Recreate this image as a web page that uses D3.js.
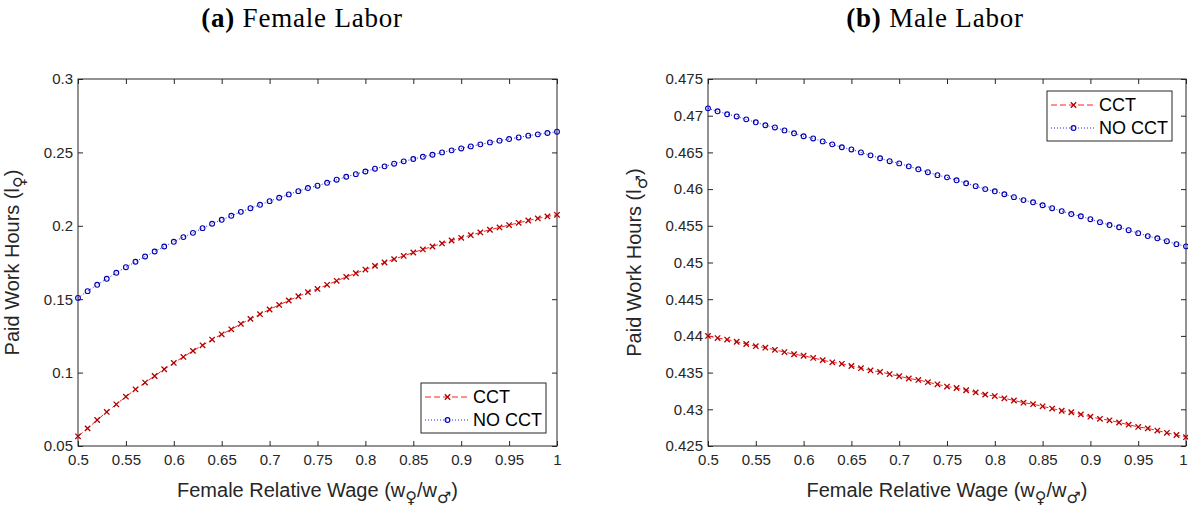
<!DOCTYPE html>
<meta charset="utf-8">
<head>
	<title>CCT vs NO CCT - paid work hours</title>
</head>

<style>

body{
	margin: 0;
	background: #fff;
}

svg{
	display: block;
	font-family: "Liberation Sans", Arial, sans-serif;
}

.axis path, .axis line {
	stroke: #262626;
}

.axis text {
	fill: #262626;
	font-size: 15px;
}

.title {
	font-family: "Liberation Serif", "DejaVu Serif", serif;
	font-size: 27px;
	letter-spacing: 0.8px;
	fill: #000;
}

.label {
	font-size: 20px;
	fill: #262626;
}

.sym {
	font-family: "DejaVu Sans", sans-serif;
}

</style>

<body>

<svg width="1188" height="508"></svg>

<script src="https://cdnjs.cloudflare.com/ajax/libs/d3/7.8.5/d3.min.js"></script>
<script>

// wage ratio grid, 0.5 .. 1 step 0.01
var wage = d3.range(51).map(function(i){ return +(0.5 + i * 0.01).toFixed(2); });

// (a) female labor
var femaleCCT = [
	0.0566, 0.0620, 0.0677, 0.0732, 0.0784, 0.0836, 0.0886, 0.0932, 0.0977, 0.1023,
	0.1066, 0.1107, 0.1148, 0.1186, 0.1225, 0.1261, 0.1295, 0.1332, 0.1366, 0.1398,
	0.1430, 0.1461, 0.1491, 0.1520, 0.1548, 0.1570, 0.1598, 0.1625, 0.1652, 0.1677,
	0.1702, 0.1727, 0.1750, 0.1773, 0.1795, 0.1818, 0.1839, 0.1859, 0.1880, 0.1900,
	0.1918, 0.1936, 0.1955, 0.1973, 0.1989, 0.2005, 0.2020, 0.2036, 0.2050, 0.2064,
	0.2075
];
var femaleNoCCT = [
	0.1509, 0.1555, 0.1598, 0.1639, 0.1680, 0.1718, 0.1755, 0.1791, 0.1825, 0.1859,
	0.1891, 0.1923, 0.1952, 0.1984, 0.2014, 0.2041, 0.2068, 0.2095, 0.2120, 0.2143,
	0.2168, 0.2191, 0.2214, 0.2236, 0.2257, 0.2273, 0.2293, 0.2314, 0.2334, 0.2352,
	0.2370, 0.2389, 0.2405, 0.2423, 0.2439, 0.2455, 0.2470, 0.2484, 0.2500, 0.2514,
	0.2527, 0.2541, 0.2555, 0.2568, 0.2580, 0.2591, 0.2602, 0.2614, 0.2623, 0.2632,
	0.2641
];

// (b) male labor
var maleCCT = [
	0.4400, 0.4397, 0.4395, 0.4392, 0.4389, 0.4386, 0.4384, 0.4381, 0.4378, 0.4375,
	0.4373, 0.4370, 0.4367, 0.4364, 0.4362, 0.4359, 0.4356, 0.4353, 0.4351, 0.4348,
	0.4345, 0.4342, 0.4340, 0.4337, 0.4334, 0.4331, 0.4329, 0.4326, 0.4323, 0.4320,
	0.4318, 0.4315, 0.4312, 0.4309, 0.4307, 0.4304, 0.4301, 0.4298, 0.4296, 0.4293,
	0.4290, 0.4287, 0.4285, 0.4282, 0.4279, 0.4276, 0.4274, 0.4271, 0.4268, 0.4265,
	0.4262
];
var maleNoCCT = [
	0.4710, 0.4706, 0.4702, 0.4699, 0.4695, 0.4691, 0.4687, 0.4684, 0.4680, 0.4676,
	0.4672, 0.4669, 0.4665, 0.4661, 0.4657, 0.4654, 0.4650, 0.4646, 0.4642, 0.4638,
	0.4635, 0.4631, 0.4627, 0.4623, 0.4619, 0.4616, 0.4612, 0.4608, 0.4604, 0.4600,
	0.4597, 0.4593, 0.4589, 0.4585, 0.4582, 0.4578, 0.4574, 0.4570, 0.4566, 0.4563,
	0.4559, 0.4555, 0.4551, 0.4548, 0.4544, 0.4540, 0.4536, 0.4533, 0.4529, 0.4525,
	0.4522
];

var xTicks = [0.5, 0.55, 0.6, 0.65, 0.7, 0.75, 0.8, 0.85, 0.9, 0.95, 1];
var yTicksA = [0.05, 0.1, 0.15, 0.2, 0.25, 0.3];
var yTicksB = [0.425, 0.43, 0.435, 0.44, 0.445, 0.45, 0.455, 0.46, 0.465, 0.47, 0.475];

var seriesNames = ['CCT', 'NO CCT'];

var svg = d3.select('svg');
var fmt = function(d){ return String(+d.toFixed(3)); };

function drawPanel(p){
	var w = p.x1 - p.x0, h = p.y1 - p.y0;
	var g = svg.append('g').attr('transform', 'translate(' + p.x0 + ',' + p.y0 + ')');

	var x = d3.scaleLinear().domain([0.5, 1]).range([0, w]);
	var y = d3.scaleLinear().domain(p.yDomain).range([h, 0]);

	// title
	var t = svg.append('text').attr('class', 'title')
		.attr('x', p.titleX).attr('y', 27).attr('text-anchor', 'middle');
	t.append('tspan').attr('font-weight', 'bold').text(p.tag);
	t.append('tspan').text(' ' + p.title);

	// axes, matlab box style with inward ticks
	var xa = g.append('g').attr('class', 'axis').attr('transform', 'translate(0,' + h + ')')
		.call(d3.axisBottom(x).tickValues(xTicks).tickFormat(fmt).tickSizeInner(-5).tickSizeOuter(0).tickPadding(8));
	if (p.clipLast) {
		// last label sits on the page edge
		xa.selectAll('.tick').filter(function(d){ return d === 1; }).select('text')
			.attr('text-anchor', 'end').attr('dx', 1);
	}
	g.append('g').attr('class', 'axis')
		.call(d3.axisTop(x).tickValues(xTicks).tickFormat('').tickSizeInner(-5).tickSizeOuter(0));
	g.append('g').attr('class', 'axis')
		.call(d3.axisLeft(y).tickValues(p.yTicks).tickFormat(fmt).tickSizeInner(-5).tickSizeOuter(0).tickPadding(5));
	g.append('g').attr('class', 'axis').attr('transform', 'translate(' + w + ',0)')
		.call(d3.axisRight(y).tickValues(p.yTicks).tickFormat('').tickSizeInner(-5).tickSizeOuter(0));
	g.selectAll('.axis path.domain').remove();
	g.append('rect').attr('width', w).attr('height', h)
		.attr('fill', 'none').attr('stroke', '#262626').attr('stroke-width', 1);

	var line = d3.line()
		.x(function(d, i){ return x(wage[i]); })
		.y(function(d){ return y(d); });

	// CCT: red dashed with x markers
	g.append('path').attr('d', line(p.cct))
		.attr('fill', 'none').attr('stroke', '#ff2020').attr('stroke-width', 1)
		.attr('stroke-dasharray', '6,3');
	g.selectAll('.xm').data(p.cct).enter().append('path')
		.attr('class', 'xm')
		.attr('transform', function(d, i){ return 'translate(' + x(wage[i]) + ',' + y(d) + ')'; })
		.attr('d', 'M-2.7,-2.7L2.7,2.7M-2.7,2.7L2.7,-2.7')
		.attr('stroke', '#b00000').attr('stroke-width', 1.3);

	// NO CCT: blue dotted with o markers
	g.append('path').attr('d', line(p.nocct))
		.attr('fill', 'none').attr('stroke', '#2020ff').attr('stroke-width', 1)
		.attr('stroke-dasharray', '1,2');
	g.selectAll('.om').data(p.nocct).enter().append('circle')
		.attr('cx', function(d, i){ return x(wage[i]); })
		.attr('cy', function(d){ return y(d); })
		.attr('r', 2.4)
		.attr('fill', 'none').attr('stroke', '#0000b0').attr('stroke-width', 1.1);

	// axis labels
	var xl = g.append('text').attr('class', 'label')
		.attr('x', w / 2).attr('y', h + 51).attr('text-anchor', 'middle');
	xl.append('tspan').text('Female Relative Wage (w');
	xl.append('tspan').attr('class', 'sym').attr('font-size', 16).attr('dy', 6).text('\u2640');
	xl.append('tspan').attr('dy', -6).text('/w');
	xl.append('tspan').attr('class', 'sym').attr('font-size', 16).attr('dy', 6).text('\u2642');
	xl.append('tspan').attr('dy', -6).text(')');

	var yl = g.append('text').attr('class', 'label')
		.attr('transform', 'translate(' + p.yLabelX + ',' + (h / 2) + ') rotate(-90)')
		.attr('text-anchor', 'middle');
	yl.append('tspan').text('Paid Work Hours (l');
	yl.append('tspan').attr('class', 'sym').attr('font-size', 16).attr('dy', 6).text(p.ySym);
	yl.append('tspan').attr('dy', -6).text(')');

	// legend
	var lg = svg.append('g').attr('transform', 'translate(' + p.legX + ',' + p.legY + ')');
	lg.append('rect').attr('width', 125).attr('height', 50)
		.attr('fill', '#fff').attr('stroke', '#262626').attr('stroke-width', 1);
	var rows = lg.selectAll('.row').data(seriesNames).enter().append('g')
		.attr('transform', function(d, i){ return 'translate(0,' + (14 + i * 23) + ')'; });
	rows.append('line').attr('x1', 4).attr('x2', 48)
		.attr('stroke', function(d, i){ return i ? '#2020ff' : '#ff2020'; })
		.attr('stroke-dasharray', function(d, i){ return i ? '1,2' : '6,3'; });
	rows.filter(function(d, i){ return i === 0; }).append('path')
		.attr('transform', 'translate(26.5,0)')
		.attr('d', 'M-2.7,-2.7L2.7,2.7M-2.7,2.7L2.7,-2.7')
		.attr('stroke', '#b00000').attr('stroke-width', 1.3);
	rows.filter(function(d, i){ return i === 1; }).append('circle')
		.attr('cx', 26.5).attr('r', 2.4)
		.attr('fill', 'none').attr('stroke', '#0000b0').attr('stroke-width', 1.1);
	rows.append('text').attr('x', 52).attr('dy', '0.36em')
		.attr('font-size', 18).attr('fill', '#000')
		.text(function(d){ return d; });
}

drawPanel({
	x0: 78, x1: 557, y0: 79, y1: 446,
	yDomain: [0.05, 0.3], yTicks: yTicksA,
	cct: femaleCCT, nocct: femaleNoCCT,
	tag: '(a)', title: 'Female Labor', titleX: 302,
	ySym: '\u2640', yLabelX: -59,
	legX: 421, legY: 383, clipLast: false
});

drawPanel({
	x0: 708, x1: 1186, y0: 79, y1: 446,
	yDomain: [0.425, 0.475], yTicks: yTicksB,
	cct: maleCCT, nocct: maleNoCCT,
	tag: '(b)', title: 'Male Labor', titleX: 935,
	ySym: '\u2642', yLabelX: -67,
	legX: 1047, legY: 91, clipLast: true
});

</script>

</body>
</html>
